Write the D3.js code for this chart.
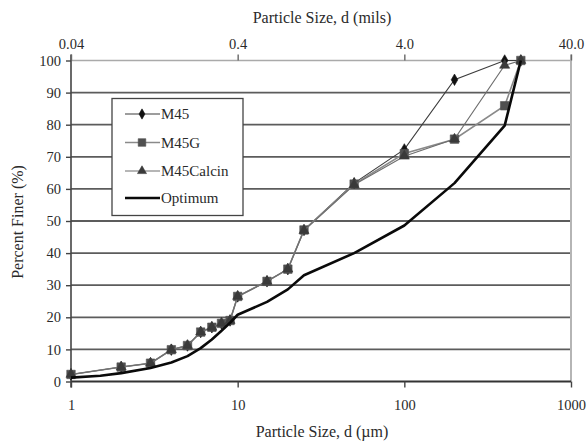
<!DOCTYPE html>
<html>
<head>
<meta charset="utf-8">
<script src="https://cdn.jsdelivr.net/npm/d3@7"></script>
<style>
  html, body { margin: 0; padding: 0; background: #fff; }
  svg { display: block; }
  text { font-family: "Liberation Serif", "Times New Roman", serif; fill: #2a2a2a; }
</style>
</head>
<body>
<div id="chart"></div>
<script>
// Particle size distribution: percent finer vs particle size (log scale)
const sizes = [1, 2, 3, 4, 5, 6, 7, 8, 9, 10, 15, 20, 25, 50, 100, 200, 400, 500];
const m45      = [2.2, 4.5, 5.7, 9.9, 11.2, 15.4, 16.9, 18.1, 19.0, 26.5, 31.2, 35.0, 47.2, 61.8, 72.3, 94.0, 100, 100];
const m45g     = [2.2, 4.5, 5.7, 9.9, 11.2, 15.4, 16.9, 18.1, 19.0, 26.5, 31.2, 35.0, 47.2, 61.5, 71.0, 75.5, 85.9, 100];
const m45calc  = [2.2, 4.5, 5.7, 9.9, 11.2, 15.4, 16.9, 18.1, 19.0, 26.5, 31.2, 35.0, 47.0, 61.3, 70.2, 75.5, 98.5, 100];

const optSizes = [1, 1.5, 2, 3, 4, 5, 6, 7, 8, 9, 10, 12, 15, 20, 25, 50, 100, 200, 400, 500];
const optimum  = [1.2, 1.8, 2.6, 4.2, 5.9, 7.9, 10.4, 13.1, 15.8, 18.3, 20.8, 22.6, 24.8, 28.7, 33.1, 40.0, 48.6, 61.8, 79.7, 100];

const bottomTicks = [1, 10, 100, 1000];
const bottomLabels = ["1", "10", "100", "1000"];
const topLabels = ["0.04", "0.4", "4.0", "40.0"];   // mils equivalents of the µm ticks
const yTicks = [0, 10, 20, 30, 40, 50, 60, 70, 80, 90, 100];

const W = 587, H = 442;
const svg = d3.select("#chart").append("svg").attr("width", W).attr("height", H);

const x = d3.scaleLog().domain([1, 1000]).range([71, 571]);
const y = d3.scaleLinear().domain([0, 100]).range([381.5, 60.5]);

// horizontal gridlines
svg.append("g").selectAll("line").data(yTicks.filter(v => v > 0)).join("line")
  .attr("x1", x(1)).attr("x2", x(1000))
  .attr("y1", d => y(d)).attr("y2", d => y(d))
  .attr("stroke", d => d === 100 ? "#aaaaaa" : "#5c5c5c")
  .attr("stroke-width", d => d === 100 ? 1.6 : 1.8);

// right border
svg.append("line").attr("x1", x(1000)).attr("x2", x(1000))
  .attr("y1", y(0)).attr("y2", y(100) - 6)
  .attr("stroke", "#b5b5b5").attr("stroke-width", 2);

// left axis
const yAxis = d3.axisLeft(y).tickValues(yTicks).tickSize(5).tickPadding(5);
const gy = svg.append("g").attr("transform", `translate(${x(1)},0)`).call(yAxis);
gy.select(".domain").attr("stroke", "#444").attr("stroke-width", 1.6)
  .attr("d", `M0,${y(0) + 6}V${y(100) - 6}`);
gy.selectAll(".tick line").attr("stroke", "#444").attr("stroke-width", 1.4);
gy.selectAll(".tick text").attr("font-size", 14.5).attr("font-family", "Liberation Serif").attr("fill", "#2a2a2a");

// bottom axis
const xAxis = d3.axisBottom(x).tickValues(bottomTicks).tickFormat((d, i) => bottomLabels[i]).tickSize(6).tickPadding(12);
const gx = svg.append("g").attr("transform", `translate(0,${y(0)})`).call(xAxis);
gx.select(".domain").attr("stroke", "#333").attr("stroke-width", 2).attr("d", `M${x(1)},0H${x(1000)}`);
gx.selectAll(".tick line").attr("stroke", "#444").attr("stroke-width", 1.4);
gx.selectAll(".tick text").attr("font-size", 14.5).attr("font-family", "Liberation Serif").attr("fill", "#2a2a2a");

// top axis (mils)
const xTop = d3.axisTop(x).tickValues(bottomTicks).tickFormat((d, i) => topLabels[i]).tickSize(6).tickPadding(6);
const gt = svg.append("g").attr("transform", `translate(0,${y(100)})`).call(xTop);
gt.select(".domain").remove();
gt.selectAll(".tick line").attr("stroke", "#666").attr("stroke-width", 1.4);
gt.selectAll(".tick text").attr("font-size", 14.5).attr("font-family", "Liberation Serif").attr("fill", "#2a2a2a");

// axis titles
svg.append("text").attr("x", 322).attr("y", 23).attr("text-anchor", "middle")
  .attr("font-size", 16).text("Particle Size, d (mils)");
svg.append("text").attr("x", 322).attr("y", 437).attr("text-anchor", "middle")
  .attr("font-size", 16).text("Particle Size, d (µm)");
svg.append("text").attr("transform", "translate(23,222) rotate(-90)").attr("text-anchor", "middle")
  .attr("font-size", 16).text("Percent Finer (%)");

// series
const series = [
  { name: "M45",       vals: m45,     line: "#3c3c3c", lw: 1.1, marker: "diamond",  mfill: "#111", msize: 38 },
  { name: "M45G",      vals: m45g,    line: "#8a8a8a", lw: 1.6, marker: "square",   mfill: "#505050", msize: 72 },
  { name: "M45Calcin", vals: m45calc, line: "#6e6e6e", lw: 1.1, marker: "triangle", mfill: "#3a3a3a", msize: 44 },
];

const line = d3.line().x(d => x(d[0])).y(d => y(d[1]));
const symbolOf = { diamond: d3.symbolDiamond, square: d3.symbolSquare, triangle: d3.symbolTriangle };

series.forEach(s => {
  const pts = sizes.map((v, i) => [v, s.vals[i]]);
  svg.append("path").datum(pts).attr("d", line).attr("fill", "none")
    .attr("stroke", s.line).attr("stroke-width", s.lw);
  svg.append("g").selectAll("path").data(pts).join("path")
    .attr("transform", d => `translate(${x(d[0])},${y(d[1])})`)
    .attr("d", d3.symbol().type(symbolOf[s.marker]).size(s.msize))
    .attr("fill", s.mfill).attr("stroke", s.mfill).attr("stroke-width", 0.6);
});

// optimum gradation curve
svg.append("path").datum(optSizes.map((v, i) => [v, optimum[i]]))
  .attr("d", line)
  .attr("fill", "none").attr("stroke", "#0a0a0a").attr("stroke-width", 2.6)
  .attr("stroke-linejoin", "round");

// legend
const lg = svg.append("g");
lg.append("rect").attr("x", 112).attr("y", 98.5).attr("width", 131).attr("height", 117)
  .attr("fill", "#fff").attr("stroke", "#444").attr("stroke-width", 1.3);
const legendItems = [
  ...series.map(s => ({ name: s.name, line: s.line, lw: s.lw, marker: s.marker, mfill: s.mfill, msize: s.msize * 0.8 })),
  { name: "Optimum", line: "#0a0a0a", lw: 2.6, marker: null }
];
const rowY = [114, 142.5, 171, 198];
legendItems.forEach((it, i) => {
  const yy = rowY[i];
  lg.append("line").attr("x1", 125).attr("x2", 160).attr("y1", yy).attr("y2", yy)
    .attr("stroke", it.line).attr("stroke-width", it.lw);
  if (it.marker) {
    lg.append("path").attr("transform", `translate(142,${yy})`)
      .attr("d", d3.symbol().type(symbolOf[it.marker]).size(it.msize))
      .attr("fill", it.mfill).attr("stroke", it.mfill).attr("stroke-width", 0.6);
  }
  lg.append("text").attr("x", 161).attr("y", yy).attr("dy", "0.35em")
    .attr("font-size", 15).text(it.name);
});
</script>
</body>
</html>
